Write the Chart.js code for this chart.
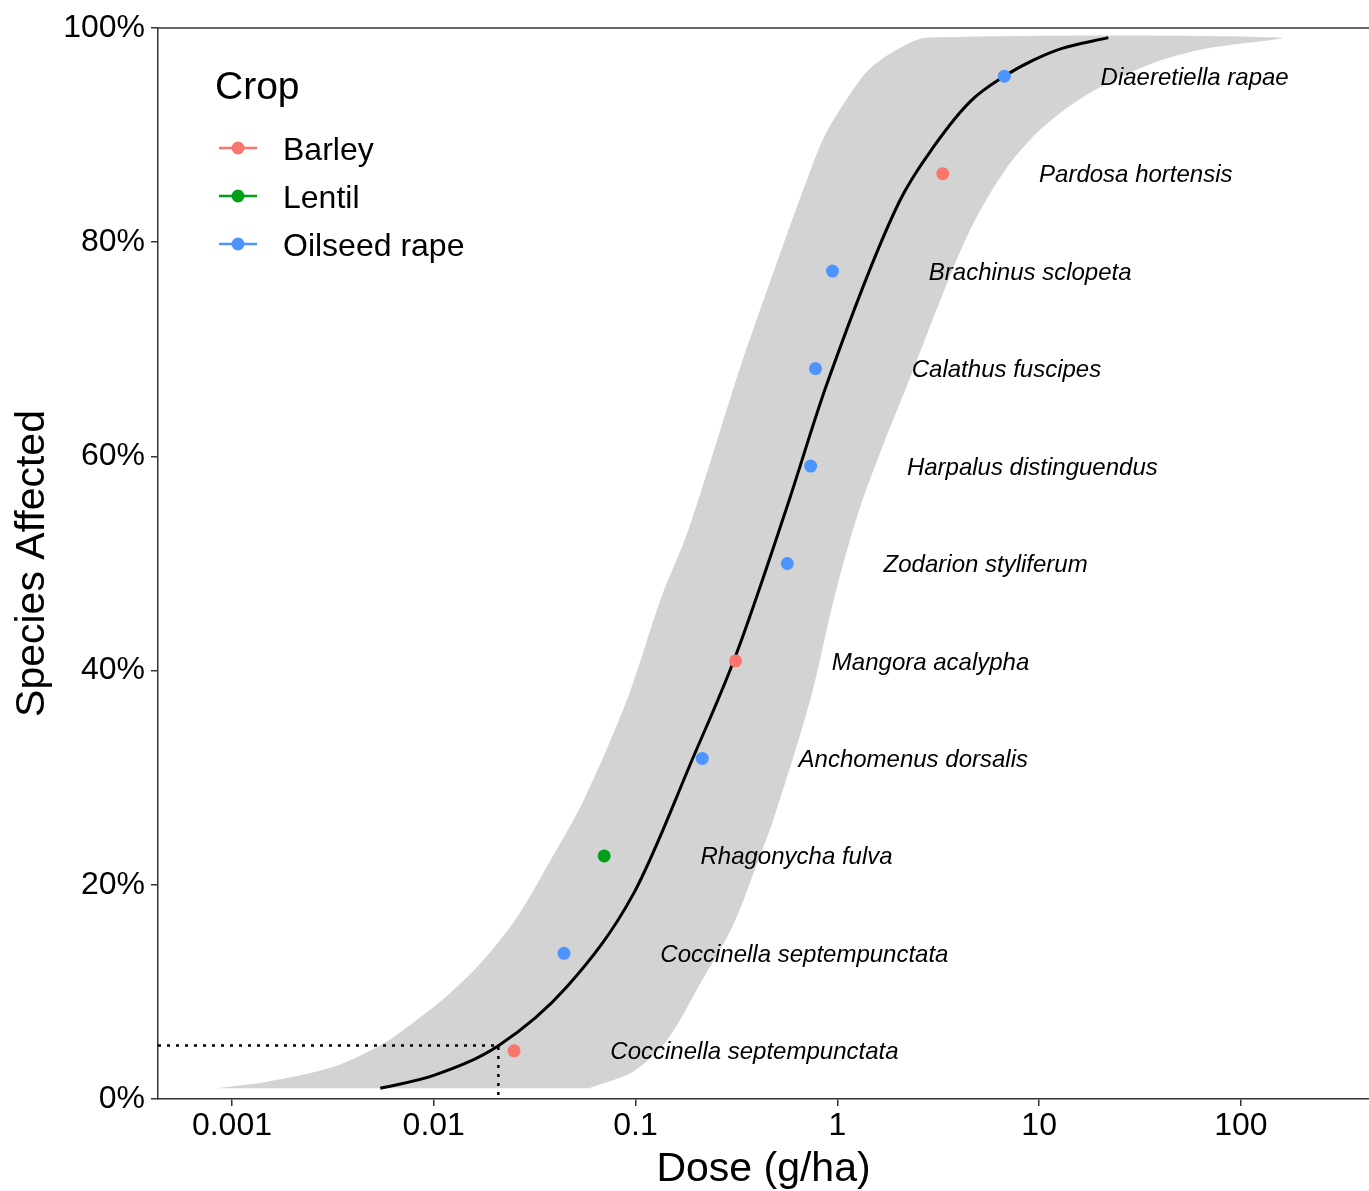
<!DOCTYPE html>
<html>
<head>
<meta charset="utf-8">
<script src="https://cdn.jsdelivr.net/npm/chart.js@4.4.0/dist/chart.umd.min.js"></script>
<style>
  body { margin: 0; background: #fff; overflow: hidden; }
  canvas { display: block; }
</style>
</head>
<body>
<canvas id="ssd" width="1369" height="1191"></canvas>
<script>
const FONT = "'Liberation Sans', Arial, sans-serif";

// Species data (dose in g/ha, share of species affected in %)
const species = [
  'Coccinella septempunctata', 'Coccinella septempunctata', 'Rhagonycha fulva',
  'Anchomenus dorsalis', 'Mangora acalypha', 'Zodarion styliferum',
  'Harpalus distinguendus', 'Calathus fuscipes', 'Brachinus sclopeta',
  'Pardosa hortensis', 'Diaeretiella rapae'
];
const crops = [
  'Barley', 'Oilseed rape', 'Lentil', 'Oilseed rape', 'Barley', 'Oilseed rape',
  'Oilseed rape', 'Oilseed rape', 'Oilseed rape', 'Barley', 'Oilseed rape'
];
const doses = [0.0250, 0.0442, 0.0699, 0.214, 0.313, 0.565, 0.737, 0.779, 0.946, 3.33, 6.72];
const affected = [4.5, 13.6, 22.7, 31.8, 40.9, 50.0, 59.1, 68.2, 77.3, 86.4, 95.5];

const cropNames = ['Barley', 'Lentil', 'Oilseed rape'];
const cropColours = ['#F8766D', '#00A01A', '#4D94FF'];

// Fitted distribution
const curveDose = [0.00543, 0.0100, 0.0210, 0.0458, 0.0979, 0.194, 0.312, 0.563, 0.889,
  2.03, 3.05, 4.59, 6.72, 9.36, 13.0, 22.0];
const curvePct = [1.0, 2.2, 5.0, 10.5, 19.2, 32.0, 41.3, 55.3, 66.8,
  83.8, 89.1, 93.2, 95.5, 97.0, 98.1, 99.1];

// Confidence band, low-dose edge and high-dose edge
const bandLowDose = [0.000844, 0.00149, 0.00319, 0.00565, 0.00826, 0.01208, 0.01767, 0.02588, 0.0379,
  0.0553, 0.0908, 0.1327, 0.180, 0.2535, 0.331, 0.540, 0.663, 0.853, 1.10, 1.43, 2.03, 2.76];
const bandLowPct = [1.0, 1.6, 3.0, 5.2, 7.4, 9.9, 13.0, 17.0, 22.3,
  27.9, 37.3, 46.6, 52.8, 61.5, 68.4, 79.8, 84.4, 89.7, 93.2, 96.1, 98.1, 99.1];
const bandHighDose = [0.0586, 0.0979, 0.1432, 0.2095, 0.302, 0.406, 0.482, 0.735, 0.959, 1.252,
  1.696, 2.30, 3.24, 4.59, 6.88, 10.4, 17.3, 35.2, 68.2, 158];
const bandHighPct = [1.0, 2.6, 5.5, 10.8, 16.1, 22.3, 26.1, 37.3, 46.6, 54.4,
  61.2, 67.4, 74.6, 81.3, 86.9, 90.7, 93.8, 96.6, 98.1, 99.1];

// HC5
const hc5Dose = 0.0209;
const hc5Pct = 5;

const xMin = 0.00043;
const xMax = 431;
const xTicks = [0.001, 0.01, 0.1, 1, 10, 100];
const xTickLabels = ['0.001', '0.01', '0.1', '1', '10', '100'];

const bandPoints = bandLowDose.map((d, i) => ({ x: d, y: bandLowPct[i] }))
  .concat(bandHighDose.map((d, i) => ({ x: d, y: bandHighPct[i] })).reverse());

const curvePoints = curveDose.map((d, i) => ({ x: d, y: curvePct[i] }));

const pointSets = cropNames.map((crop, c) => ({
  label: crop,
  data: doses.map((d, i) => ({ x: d, y: affected[i], crop: crops[i] })).filter(p => p.crop === crop),
  backgroundColor: cropColours[c],
  borderWidth: 0,
  pointRadius: 6.5,
  order: 0
}));

// species names, nudged to the right of each point
const speciesLabels = {
  id: 'speciesLabels',
  afterDatasetsDraw(chart) {
    const { ctx, scales: { x, y } } = chart;
    ctx.save();
    ctx.font = 'italic 24px ' + FONT;
    ctx.fillStyle = '#000';
    ctx.textAlign = 'left';
    ctx.textBaseline = 'alphabetic';
    species.forEach((name, i) => {
      ctx.fillText(name, x.getPixelForValue(doses[i] * 3), y.getPixelForValue(affected[i]) + 8.6);
    });
    ctx.restore();
  }
};

// top panel line and the Crop legend
const panelExtras = {
  id: 'panelExtras',
  afterDraw(chart) {
    const { ctx, chartArea } = chart;
    ctx.save();
    ctx.strokeStyle = '#333';
    ctx.lineWidth = 1.5;
    ctx.beginPath();
    ctx.moveTo(chartArea.left, chartArea.top);
    ctx.lineTo(chartArea.right, chartArea.top);
    ctx.stroke();

    ctx.fillStyle = '#000';
    ctx.font = '39px ' + FONT;
    ctx.fillText('Crop', 215, 99);
    ctx.font = '32px ' + FONT;
    cropNames.forEach((crop, c) => {
      const ky = 148 + c * 48;
      ctx.strokeStyle = cropColours[c];
      ctx.lineWidth = 2.5;
      ctx.beginPath();
      ctx.moveTo(219, ky);
      ctx.lineTo(257, ky);
      ctx.stroke();
      ctx.fillStyle = cropColours[c];
      ctx.beginPath();
      ctx.arc(238, ky, 6.5, 0, Math.PI * 2);
      ctx.fill();
      ctx.fillStyle = '#000';
      ctx.fillText(crop, 283, ky + 11.5);
    });
    ctx.restore();
  }
};

const config = {
  type: 'scatter',
  data: {
    datasets: [
      ...pointSets,
      {
        label: 'HC5',
        data: [{ x: xMin, y: hc5Pct }, { x: hc5Dose, y: hc5Pct }, { x: hc5Dose, y: 0 }],
        showLine: true,
        borderColor: '#000',
        borderWidth: 2.5,
        borderDash: [3, 6],
        pointRadius: 0,
        order: 1
      },
      {
        label: 'Fit',
        data: curvePoints,
        showLine: true,
        borderColor: '#000',
        borderWidth: 3,
        cubicInterpolationMode: 'monotone',
        pointRadius: 0,
        order: 2
      },
      {
        label: 'Band',
        data: bandPoints,
        showLine: true,
        fill: 'shape',
        backgroundColor: '#D3D3D3',
        borderColor: '#D3D3D3',
        borderWidth: 0,
        tension: 0.3,
        pointRadius: 0,
        order: 3
      }
    ]
  },
  options: {
    responsive: false,
    animation: false,
    layout: {
      autoPadding: false,
      padding: { top: 28, right: 0, bottom: 0, left: 0 }
    },
    plugins: {
      legend: { display: false },
      tooltip: { enabled: false }
    },
    scales: {
      x: {
        type: 'logarithmic',
        min: xMin,
        max: xMax,
        afterBuildTicks: (scale) => {
          scale.ticks = xTicks.map(v => ({ value: v }));
        },
        afterFit: (scale) => {
          scale.height = 92;
          scale.paddingLeft = 0;
          scale.paddingRight = 0;
        },
        ticks: {
          callback: (v, i) => xTickLabels[i],
          font: { size: 32, family: FONT },
          color: '#000',
          padding: 1,
          autoSkip: false,
          maxRotation: 0
        },
        grid: { drawOnChartArea: false, drawTicks: true, tickLength: 7, color: '#333', lineWidth: 1.5 },
        border: { display: true, color: '#333', width: 1.5 },
        title: {
          display: true,
          text: 'Dose (g/ha)',
          font: { size: 41, family: FONT },
          color: '#000',
          padding: { top: 0, bottom: -3 }
        }
      },
      y: {
        min: 0,
        max: 100,
        afterFit: (scale) => {
          scale.width = 158;
          scale.paddingTop = 0;
          scale.paddingBottom = 0;
        },
        ticks: {
          stepSize: 20,
          callback: (v) => v + '%',
          font: { size: 32, family: FONT },
          color: '#000',
          padding: 6
        },
        grid: { drawOnChartArea: false, drawTicks: true, tickLength: 7, color: '#333', lineWidth: 1.5 },
        border: { display: true, color: '#333', width: 1.5 },
        title: {
          display: true,
          text: 'Species Affected',
          font: { size: 41, family: FONT },
          color: '#000',
          padding: { top: 8, bottom: 0 }
        }
      }
    }
  },
  plugins: [speciesLabels, panelExtras]
};

const ssdChart = new Chart(document.getElementById('ssd'), config);
</script>
</body>
</html>
